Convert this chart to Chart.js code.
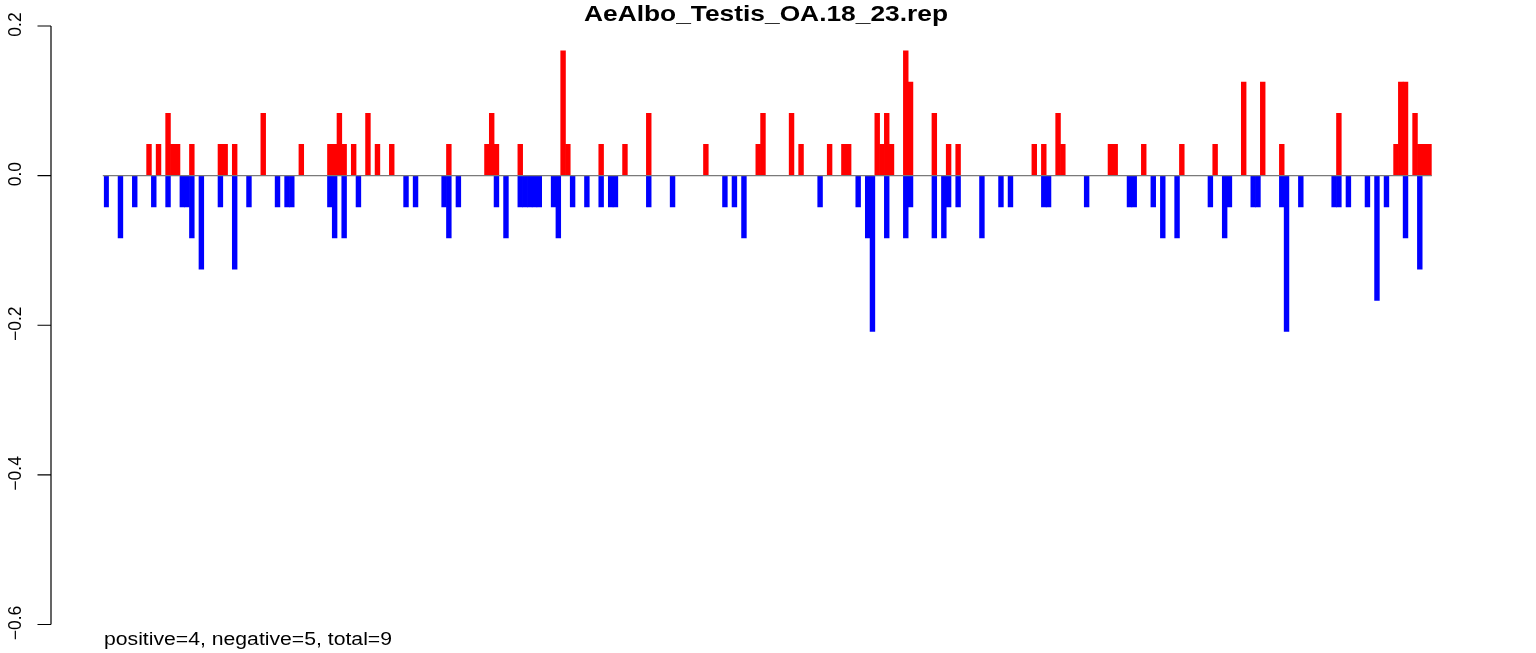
<!DOCTYPE html>
<html><head><meta charset="utf-8">
<script src="https://cdn.jsdelivr.net/npm/chart.js@4.4.1/dist/chart.umd.min.js"></script>
<style>html,body{margin:0;padding:0;background:#fff;}#wrap{width:1536px;height:653px;position:relative;}</style>
</head><body><div id="wrap"><canvas id="c" width="1536" height="653"></canvas></div>
<script>
const chartTitle = "AeAlbo_Testis_OA.18_23.rep";
const footnote = "positive=4, negative=5, total=9";
const nBars = 279;
const yTicks = [0.2, 0, -0.2, -0.4, -0.6];
const yTickLabels = ["0.2", "0.0", "\u22120.2", "\u22120.4", "\u22120.6"];

// positive (red) bars: category index and value
const posIdx = [9,11,13,14,15,18,24,25,27,33,41,47,48,49,50,52,55,57,60,72,80,81,82,87,96,97,104,109,114,126,137,138,144,146,152,155,156,162,163,164,165,168,169,174,177,179,195,197,200,201,211,212,218,226,233,239,243,247,259,271,272,273,275,276,277,278];
const posVal = [0.0417,0.0417,0.0833,0.0417,0.0417,0.0417,0.0417,0.0417,0.0417,0.0833,0.0417,0.0417,0.0417,0.0833,0.0417,0.0417,0.0833,0.0417,0.0417,0.0417,0.0417,0.0833,0.0417,0.0417,0.1667,0.0417,0.0417,0.0417,0.0833,0.0417,0.0417,0.0833,0.0833,0.0417,0.0417,0.0417,0.0417,0.0833,0.0417,0.0833,0.0417,0.1667,0.125,0.0833,0.0417,0.0417,0.0417,0.0417,0.0833,0.0417,0.0417,0.0417,0.0417,0.0417,0.0417,0.125,0.125,0.0417,0.0833,0.0417,0.125,0.125,0.0833,0.0417,0.0417,0.0417];

// negative (blue) bars: category index and value
const negIdx = [0,3,6,10,13,16,17,18,20,24,27,30,36,38,39,47,48,50,53,63,65,71,72,74,82,84,87,88,89,90,91,94,95,98,101,104,106,107,114,119,130,132,134,150,158,160,161,164,168,169,174,176,177,179,184,188,190,197,198,206,215,216,220,222,225,232,235,236,241,242,247,248,251,258,259,261,265,267,269,273,276];
const negVal = [-0.0417,-0.0833,-0.0417,-0.0417,-0.0417,-0.0417,-0.0417,-0.0833,-0.125,-0.0417,-0.125,-0.0417,-0.0417,-0.0417,-0.0417,-0.0417,-0.0833,-0.0833,-0.0417,-0.0417,-0.0417,-0.0417,-0.0833,-0.0417,-0.0417,-0.0833,-0.0417,-0.0417,-0.0417,-0.0417,-0.0417,-0.0417,-0.0833,-0.0417,-0.0417,-0.0417,-0.0417,-0.0417,-0.0417,-0.0417,-0.0417,-0.0417,-0.0833,-0.0417,-0.0417,-0.0833,-0.2083,-0.0833,-0.0833,-0.0417,-0.0833,-0.0833,-0.0417,-0.0417,-0.0833,-0.0417,-0.0417,-0.0417,-0.0417,-0.0417,-0.0417,-0.0417,-0.0417,-0.0833,-0.0833,-0.0417,-0.0833,-0.0417,-0.0417,-0.0417,-0.0417,-0.2083,-0.0417,-0.0417,-0.0417,-0.0417,-0.0417,-0.1667,-0.0417,-0.0833,-0.125];

const labels = Array.from({length: nBars}, (_, i) => String(i + 1));
const posData = new Array(nBars).fill(null);
posIdx.forEach((k, j) => { posData[k] = posVal[j]; });
const negData = new Array(nBars).fill(null);
negIdx.forEach((k, j) => { negData[k] = negVal[j]; });

const FONT = "'Liberation Sans', Arial, Helvetica, sans-serif";

const decor = {
  id: 'decor',
  afterDatasetsDraw(chart) {
    const ctx = chart.ctx, a = chart.chartArea, y = chart.scales.y;
    ctx.save();
    // zero reference line across the bars
    ctx.strokeStyle = '#7a7a7a';
    ctx.lineWidth = 1.2;
    ctx.beginPath();
    ctx.moveTo(a.left - 1, y.getPixelForValue(0));
    ctx.lineTo(a.right, y.getPixelForValue(0));
    ctx.stroke();
    ctx.restore();
  },
  afterDraw(chart) {
    const ctx = chart.ctx, y = chart.scales.y;
    ctx.save();
    // y axis line + ticks
    const ax = 51;
    ctx.strokeStyle = '#000';
    ctx.lineWidth = 1.2;
    ctx.beginPath();
    ctx.moveTo(ax, y.getPixelForValue(yTicks[0]));
    ctx.lineTo(ax, y.getPixelForValue(yTicks[yTicks.length - 1]));
    yTicks.forEach(v => {
      const py = y.getPixelForValue(v);
      ctx.moveTo(ax, py);
      ctx.lineTo(37.5, py);
    });
    ctx.stroke();
    // tick labels (rotated)
    ctx.fillStyle = '#000';
    ctx.font = '17.5px ' + FONT;
    ctx.textAlign = 'center';
    ctx.textBaseline = 'alphabetic';
    yTicks.forEach((v, i) => {
      const py = y.getPixelForValue(v);
      ctx.save();
      ctx.translate(20.5, py - 1.5);
      ctx.rotate(-Math.PI / 2);
      ctx.fillText(yTickLabels[i], 0, 0);
      ctx.restore();
    });
    // title
    ctx.font = 'bold 22px ' + FONT;
    let w = ctx.measureText(chartTitle).width;
    ctx.save();
    ctx.translate(766, 21);
    ctx.scale(364 / w, 1);
    ctx.fillText(chartTitle, 0, 0);
    ctx.restore();
    // footnote
    ctx.font = '17.5px ' + FONT;
    w = ctx.measureText(footnote).width;
    ctx.save();
    ctx.translate(104, 645);
    ctx.scale(288 / w, 1);
    ctx.textAlign = 'left';
    ctx.fillText(footnote, 0, 0);
    ctx.restore();
    ctx.restore();
  }
};

new Chart(document.getElementById('c'), {
  type: 'bar',
  data: {
    labels: labels,
    datasets: [
      { label: 'positive', data: posData, backgroundColor: '#ff0000', borderWidth: 0, barPercentage: 1, categoryPercentage: 1 },
      { label: 'negative', data: negData, backgroundColor: '#0000ff', borderWidth: 0, barPercentage: 1, categoryPercentage: 1 }
    ]
  },
  options: {
    responsive: false,
    animation: false,
    devicePixelRatio: 1,
    layout: { padding: { left: 103.8, right: 104.3, top: 26, bottom: 28.5 } },
    plugins: { legend: { display: false }, tooltip: { enabled: false }, title: { display: false } },
    scales: {
      x: { display: false, stacked: true, offset: true },
      y: { display: false, stacked: true, min: -0.6, max: 0.2 }
    }
  },
  plugins: [decor]
});
</script>
</body></html>
